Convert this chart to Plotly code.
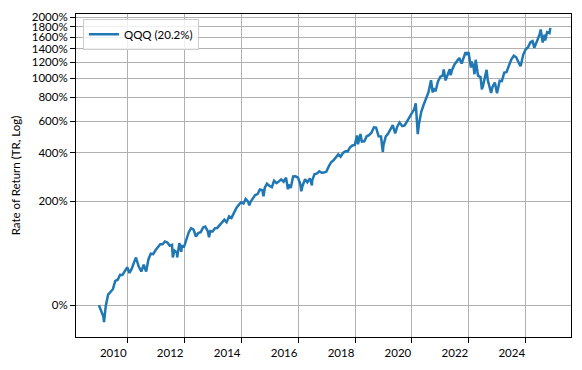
import plotly.graph_objects as go

# Cumulative total return of QQQ (%)
dates = [
    "2009-01-02","2009-01-30","2009-02-27","2009-03-09","2009-03-31","2009-04-30","2009-05-29","2009-06-30",
    "2009-07-31","2009-08-31","2009-09-30","2009-10-30","2009-11-30","2009-12-31",
    "2010-01-29","2010-02-26","2010-03-31","2010-04-23","2010-04-30","2010-05-28","2010-06-30","2010-07-30",
    "2010-08-31","2010-09-30","2010-10-29","2010-11-30","2010-12-31",
    "2011-01-31","2011-02-28","2011-03-31","2011-04-29","2011-05-31","2011-06-30","2011-07-29","2011-08-08",
    "2011-08-31","2011-09-30","2011-10-03","2011-10-31","2011-11-25","2011-11-30","2011-12-30",
    "2012-01-31","2012-02-29","2012-03-30","2012-04-30","2012-05-31","2012-06-29","2012-07-31","2012-08-31",
    "2012-09-28","2012-10-31","2012-11-15","2012-11-30","2012-12-31",
    "2013-01-31","2013-02-28","2013-03-28","2013-04-30","2013-05-31","2013-06-28","2013-07-31","2013-08-30",
    "2013-09-30","2013-10-31","2013-11-29","2013-12-31",
    "2014-01-31","2014-02-28","2014-03-31","2014-04-15","2014-04-30","2014-05-30","2014-06-30","2014-07-31",
    "2014-08-29","2014-09-30","2014-10-15","2014-10-31","2014-11-28","2014-12-31",
    "2015-01-30","2015-02-27","2015-03-31","2015-04-30","2015-05-29","2015-06-30","2015-07-31","2015-08-24",
    "2015-08-31","2015-09-29","2015-10-30","2015-11-30","2015-12-31",
    "2016-01-29","2016-02-11","2016-02-29","2016-03-31","2016-04-29","2016-05-31","2016-06-27","2016-06-30",
    "2016-07-29","2016-08-31","2016-09-30","2016-10-31","2016-11-30","2016-12-30",
    "2017-01-31","2017-02-28","2017-03-31","2017-04-28","2017-05-31","2017-06-30","2017-07-31","2017-08-31",
    "2017-09-29","2017-10-31","2017-11-30","2017-12-29",
    "2018-01-26","2018-02-08","2018-02-28","2018-03-12","2018-03-29","2018-04-30","2018-05-31","2018-06-29",
    "2018-07-31","2018-08-31","2018-09-28","2018-10-31","2018-11-30","2018-12-24","2018-12-31",
    "2019-01-31","2019-02-28","2019-03-29","2019-04-30","2019-05-31","2019-06-28","2019-07-26","2019-08-30",
    "2019-09-30","2019-10-31","2019-11-29","2019-12-31",
    "2020-01-31","2020-02-19","2020-02-28","2020-03-16","2020-03-31","2020-04-30","2020-05-29","2020-06-30",
    "2020-07-31","2020-09-02","2020-09-23","2020-09-30","2020-10-30","2020-11-30","2020-12-31",
    "2021-01-29","2021-02-12","2021-03-08","2021-03-31","2021-04-30","2021-05-12","2021-05-28","2021-06-30",
    "2021-07-30","2021-08-31","2021-09-30","2021-10-29","2021-11-19","2021-11-30","2021-12-27",
    "2022-01-27","2022-01-31","2022-02-28","2022-03-14","2022-03-29","2022-04-29","2022-05-31","2022-06-16",
    "2022-06-30","2022-07-29","2022-08-16","2022-08-31","2022-09-30","2022-10-13","2022-10-31","2022-11-30",
    "2022-12-28",
    "2023-01-31","2023-02-28","2023-03-31","2023-04-28","2023-05-31","2023-06-30","2023-07-31","2023-08-31",
    "2023-09-29","2023-10-26","2023-11-30","2023-12-29",
    "2024-01-31","2024-02-29","2024-03-28","2024-04-19","2024-05-31","2024-06-28","2024-07-10","2024-08-05",
    "2024-08-30","2024-09-06","2024-09-30","2024-10-31","2024-11-11",
]
returns_pct = [
    0.0, -5.8, -11.0, -16.4, -0.8, 11.8, 15.1, 18.4,
    29.3, 30.9, 37.8, 37.5, 43.4, 49.2,
    40.6, 46.7, 58.0, 65.5, 61.8, 50.3, 42.7, 53.3,
    42.8, 62.6, 72.3, 71.6, 79.1,
    84.4, 90.4, 90.3, 96.1, 93.9, 87.3, 89.3, 65.7,
    77.9, 74.2, 65.6, 92.7, 75.8, 87.0, 85.4,
    100.9, 116.3, 125.8, 122.5, 106.6, 114.4, 116.3, 127.2,
    129.4, 117.9, 104.9, 118.6, 118.1,
    125.6, 126.2, 132.8, 138.5, 146.7, 140.3, 155.7, 151.7,
    165.8, 179.0, 188.1, 196.7,
    192.8, 207.4, 199.0, 186.9, 197.5, 210.7, 220.1, 223.4,
    239.5, 236.7, 216.0, 245.8, 260.7, 252.3,
    247.8, 272.3, 263.1, 269.9, 277.8, 268.4, 284.5, 239.8,
    258.2, 245.2, 289.5, 290.8, 284.9,
    261.0, 233.2, 254.4, 278.2, 266.2, 281.6, 254.3, 272.6,
    299.0, 302.4, 311.3, 305.0, 305.8, 310.2,
    334.9, 353.0, 362.0, 374.5, 391.9, 379.9, 399.7, 408.9,
    408.1, 431.0, 440.9, 443.6,
    500.7, 447.5, 486.5, 509.9, 463.0, 465.2, 496.0, 502.3,
    518.7, 554.8, 552.5, 496.0, 494.4, 404.7, 441.4,
    495.2, 511.8, 535.9, 570.6, 514.3, 561.1, 589.4, 562.9,
    567.9, 596.7, 624.2, 652.6,
    693.8, 743.0, 634.0, 509.0, 577.8, 671.1, 728.9, 781.0,
    846.0, 977.3, 845.5, 890.4, 858.7, 964.1, 1017.9,
    1029.4, 1105.8, 974.8, 1043.9, 1111.2, 1035.9, 1095.9, 1171.8,
    1207.2, 1261.6, 1183.6, 1285.0, 1348.2, 1310.0, 1348.2,
    1131.2, 1213.0, 1152.1, 1047.6, 1236.7, 1030.5, 1011.8, 878.8,
    911.6, 1038.7, 1101.3, 979.2, 864.8, 841.0, 903.0, 951.0,
    839.1,
    972.0, 966.7, 1067.6, 1073.2, 1162.6, 1244.6, 1295.8, 1273.1,
    1203.5, 1149.0, 1312.7, 1390.4,
    1427.6, 1508.4, 1527.2, 1419.0, 1552.4, 1654.5, 1743.1, 1504.5,
    1644.9, 1540.2, 1688.2, 1673.0, 1771.9,
]
series_name = "QQQ (20.2%)"

y_tick_pct = [0, 200, 400, 600, 800, 1000, 1200, 1400, 1600, 1800, 2000]
y_tick_labels = [f"{p}%" for p in y_tick_pct]
x_tick_years = [2010, 2012, 2014, 2016, 2018, 2020, 2022, 2024]
x_tick_labels = [str(y) for y in x_tick_years]

growth = [1 + r / 100.0 for r in returns_pct]

FONT = "Lato"
fig = go.Figure()
fig.add_trace(go.Scatter(
    x=dates, y=growth, mode="lines", name=series_name,
    line=dict(color="#1f77b4", width=2.5),
))

fig.update_layout(
    width=582, height=370,
    margin=dict(l=76, r=10, t=12, b=33),
    paper_bgcolor="white", plot_bgcolor="white",
    font=dict(family=FONT, size=11.5, color="#000000"),
    showlegend=True,
    legend=dict(
        x=0.014, y=0.985, xanchor="left", yanchor="top",
        bordercolor="#cccccc", borderwidth=1,
        bgcolor="rgba(255,255,255,0.8)",
        font=dict(family=FONT, size=11.5, color="#000000"),
        itemwidth=30,
    ),
)

fig.update_xaxes(
    type="date",
    range=["2008-03-14", "2025-08-03"],
    tickvals=[f"{y}-01-01" for y in x_tick_years],
    ticktext=x_tick_labels,
    ticks="outside", ticklen=5, tickwidth=1, tickcolor="black",
    showline=True, linecolor="black", linewidth=1, mirror=True,
    showgrid=True, gridcolor="#b0b0b0", gridwidth=1,
    zeroline=False,
    ticklabelshift=-14,
    tickfont=dict(family=FONT, size=11.5, color="#000000"),
)
fig.update_yaxes(
    type="log",
    range=[-0.1459, 1.3361],
    tickvals=[1 + p / 100.0 for p in y_tick_pct],
    ticktext=y_tick_labels,
    ticks="outside", ticklen=5, tickwidth=1, tickcolor="black",
    showline=True, linecolor="black", linewidth=1, mirror=True,
    showgrid=True, gridcolor="#b0b0b0", gridwidth=1,
    zeroline=False,
    title=dict(text="Rate of Return (TR, Log)", standoff=8,
               font=dict(family=FONT, size=11.5, color="#000000")),
    tickfont=dict(family=FONT, size=11.5, color="#000000"),
)

fig.write_html("out.html")
